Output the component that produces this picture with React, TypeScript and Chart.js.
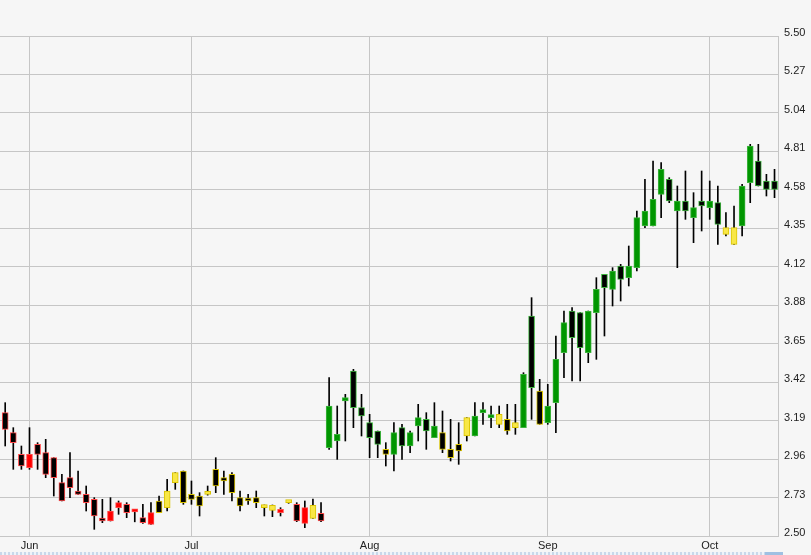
import React, { useEffect, useRef } from "react";
import { Chart, registerables } from "chart.js";

Chart.register(...registerables);

// ---- data (one entry per trading day) ----
const openPrices = [
  3.24, 3.12, 2.99, 2.91, 3.05, 3.0, 2.97, 2.82, 2.85, 2.77,
  2.75, 2.72, 2.6, 2.59, 2.67, 2.69, 2.645, 2.61, 2.57, 2.71,
  2.67, 2.82, 2.89, 2.75, 2.74, 2.75, 2.9, 2.85, 2.87, 2.73,
  2.72, 2.73, 2.67, 2.654, 2.64, 2.7, 2.69, 2.576, 2.606, 2.636,
  3.03, 3.07, 3.31, 3.49, 3.27, 3.18, 3.13, 3.02, 2.99, 3.15,
  3.04, 3.16, 3.2, 3.09, 3.12, 3.02, 3.05, 3.1, 3.1, 3.24,
  3.21, 3.17, 3.2, 3.15, 3.15, 3.82, 3.37, 3.18, 3.3, 3.6,
  3.85, 3.84, 3.6, 3.84, 4.07, 3.98, 4.12, 4.05, 4.11, 4.36,
  4.36, 4.55, 4.64, 4.45, 4.51, 4.41, 4.51, 4.47, 4.5, 4.31,
  4.25, 4.36, 4.62, 4.75, 4.63, 4.63,
];
const highPrices = [
  3.3, 3.15, 3.04, 3.15, 3.06, 3.08, 2.97, 2.87, 3.0, 2.89,
  2.8, 2.73, 2.72, 2.73, 2.71, 2.7, 2.655, 2.69, 2.7, 2.74,
  2.84, 2.88, 2.89, 2.83, 2.76, 2.8, 2.97, 2.89, 2.88, 2.77,
  2.75, 2.77, 2.686, 2.686, 2.67, 2.712, 2.7, 2.71, 2.722, 2.7,
  3.45, 3.28, 3.35, 3.5, 3.35, 3.23, 3.13, 3.06, 3.18, 3.17,
  3.13, 3.29, 3.24, 3.3, 3.25, 3.2, 3.18, 3.21, 3.3, 3.3,
  3.28, 3.28, 3.29, 3.29, 3.48, 3.93, 3.44, 3.41, 3.7, 3.85,
  3.87, 3.84, 3.85, 4.05, 4.07, 4.11, 4.13, 4.24, 4.45, 4.64,
  4.75, 4.74, 4.65, 4.6, 4.69, 4.56, 4.69, 4.63, 4.6, 4.44,
  4.48, 4.61, 4.85, 4.85, 4.67, 4.7,
];
const lowPrices = [
  3.04, 2.9, 2.9, 2.9, 2.9, 2.85, 2.74, 2.71, 2.73, 2.75,
  2.65, 2.54, 2.58, 2.59, 2.63, 2.61, 2.585, 2.576, 2.57, 2.64,
  2.65, 2.78, 2.69, 2.69, 2.62, 2.745, 2.76, 2.75, 2.71, 2.65,
  2.69, 2.67, 2.62, 2.616, 2.62, 2.696, 2.586, 2.55, 2.606, 2.586,
  3.02, 2.96, 3.07, 3.15, 3.1, 2.97, 2.97, 2.92, 2.89, 2.96,
  3.0, 3.07, 3.02, 3.09, 3.0, 2.95, 2.93, 3.07, 3.1, 3.17,
  3.15, 3.15, 3.11, 3.11, 3.15, 3.2, 3.17, 3.17, 3.12, 3.45,
  3.43, 3.43, 3.54, 3.56, 3.7, 3.88, 3.91, 4.0, 4.09, 4.35,
  4.36, 4.41, 4.5, 4.11, 4.4, 4.26, 4.33, 4.4, 4.25, 4.3,
  4.25, 4.3, 4.5, 4.6, 4.54, 4.53,
];
const closePrices = [
  3.14, 3.06, 2.92, 2.99, 2.99, 2.87, 2.85, 2.71, 2.79, 2.75,
  2.7, 2.62, 2.59, 2.65, 2.7, 2.64, 2.655, 2.58, 2.64, 2.64,
  2.77, 2.88, 2.7, 2.72, 2.68, 2.76, 2.8, 2.83, 2.76, 2.68,
  2.71, 2.7, 2.68, 2.684, 2.66, 2.712, 2.59, 2.67, 2.684, 2.59,
  3.28, 3.11, 3.33, 3.27, 3.22, 3.09, 3.05, 2.99, 3.12, 3.04,
  3.12, 3.21, 3.13, 3.16, 3.02, 2.97, 3.01, 3.21, 3.22, 3.25,
  3.22, 3.23, 3.13, 3.18, 3.47, 3.39, 3.17, 3.28, 3.56, 3.78,
  3.69, 3.63, 3.85, 3.98, 3.99, 4.09, 4.04, 4.12, 4.41, 4.45,
  4.52, 4.7, 4.51, 4.51, 4.45, 4.47, 4.48, 4.51, 4.37, 4.35,
  4.35, 4.6, 4.84, 4.6, 4.58, 4.58,
];
// trend colour of each candle: r = red, y = yellow, g = green
const trendColors = [
  "r", "r", "r", "r", "r", "r", "r", "r", "r", "r",
  "r", "r", "r", "r", "r", "r", "r", "r", "r", "y",
  "y", "y", "y", "y", "y", "y", "y", "y", "y", "y",
  "y", "y", "y", "y", "r", "y", "r", "r", "y", "r",
  "g", "g", "g", "g", "g", "g", "g", "y", "g", "g",
  "g", "g", "g", "g", "y", "y", "y", "y", "g", "g",
  "g", "y", "y", "y", "g", "g", "y", "g", "g", "g",
  "g", "g", "g", "g", "g", "g", "g", "g", "g", "g",
  "g", "g", "g", "g", "g", "g", "g", "g", "g", "y",
  "y", "g", "g", "g", "g", "g",
];
const monthLabels = ["Jun", "Jul", "Aug", "Sep", "Oct"];
const monthStartIndex = [3, 23, 45, 67, 87];
const yTickLabels = [
  "2.50", "2.73", "2.96", "3.19", "3.42", "3.65", "3.88",
  "4.12", "4.35", "4.58", "4.81", "5.04", "5.27", "5.50",
];
const yMin = 2.5;
const yMax = 5.5;

const palette: Record<string, { fill: string; edge: string }> = {
  r: { fill: "#ff0000", edge: "#ff4a4a" },
  y: { fill: "#f8e746", edge: "#d9c300" },
  g: { fill: "#009600", edge: "#3db43d" },
};

export default function App() {
  const ref = useRef<HTMLCanvasElement | null>(null);

  useEffect(() => {
    document.body.style.margin = "0";
    const canvas = ref.current;
    if (!canvas) return;

    const n = openPrices.length;
    const wickData = [];
    const bodyData = [];
    const bodyFill: string[] = [];
    const bodyEdge: string[] = [];
    for (let i = 0; i < n; i++) {
      const o = openPrices[i];
      const c = closePrices[i];
      wickData.push({ x: i, y: [lowPrices[i], highPrices[i]] });
      bodyData.push({ x: i, y: [Math.min(o, c), Math.max(o, c)] });
      const p = palette[trendColors[i]];
      bodyFill.push(c < o ? "#000000" : p.fill);
      bodyEdge.push(p.edge);
    }

    const yTickValues = yTickLabels.map(
      (_, k) => yMin + (k * (yMax - yMin)) / (yTickLabels.length - 1)
    );

    const chart = new Chart(canvas, {
      type: "bar",
      data: {
        datasets: [
          {
            label: "wick",
            data: wickData as any,
            backgroundColor: "#000000",
            borderWidth: 0,
            barThickness: 1,
            grouped: false,
            order: 2,
          } as any,
          {
            label: "body",
            data: bodyData as any,
            backgroundColor: bodyFill,
            borderColor: bodyEdge,
            borderWidth: 1,
            borderSkipped: false,
            barThickness: 6,
            minBarLength: 3,
            grouped: false,
            order: 1,
          } as any,
        ],
      },
      options: {
        animation: false,
        responsive: false,
        maintainAspectRatio: false,
        devicePixelRatio: 1,
        layout: { padding: { top: 36, left: 0, right: 0, bottom: 0 } },
        plugins: {
          legend: { display: false },
          tooltip: { enabled: false },
        },
        scales: {
          x: {
            type: "linear",
            min: -0.642,
            max: 95.43,
            offset: false,
            afterBuildTicks: (scale: any) => {
              scale.ticks = monthStartIndex.map((v) => ({ value: v }));
            },
            afterFit: (scale: any) => {
              scale.height = 19;
            },
            ticks: {
              autoSkip: false,
              maxRotation: 0,
              padding: 3,
              color: "#222222",
              font: { family: "'Liberation Sans', Arial, sans-serif", size: 11 },
              callback: (v: any) => {
                const k = monthStartIndex.indexOf(Number(v));
                return k >= 0 ? monthLabels[k] : "";
              },
            },
            grid: { color: "#c6c6c6", lineWidth: 1, drawTicks: false, offset: false },
            border: { display: true, color: "#c6c6c6" },
          },
          y: {
            type: "linear",
            position: "right",
            min: yMin,
            max: yMax,
            afterBuildTicks: (scale: any) => {
              scale.ticks = yTickValues.map((v) => ({ value: v }));
            },
            afterFit: (scale: any) => {
              scale.width = 33;
            },
            ticks: {
              autoSkip: false,
              padding: 6,
              labelOffset: -3,
              color: "#222222",
              font: { family: "'Liberation Sans', Arial, sans-serif", size: 11 },
              callback: (v: any) => {
                let best = 0;
                for (let k = 0; k < yTickValues.length; k++) {
                  if (Math.abs(yTickValues[k] - Number(v)) < Math.abs(yTickValues[best] - Number(v))) best = k;
                }
                return yTickLabels[best];
              },
            },
            grid: { color: "#c6c6c6", lineWidth: 1, drawTicks: false },
            border: { display: true, color: "#c6c6c6" },
          },
        },
      } as any,
    });

    return () => {
      chart.destroy();
    };
  }, []);

  return (
    <div
      style={{
        position: "fixed",
        left: 0,
        top: 0,
        width: 811,
        height: 555,
        background: "#f6f6f6",
        overflow: "hidden",
      }}
    >
      <canvas ref={ref} width={811} height={555} style={{ display: "block" }} />
      <div
        style={{
          position: "absolute",
          left: 0,
          top: 552,
          width: 781,
          height: 3,
          background:
            "repeating-linear-gradient(90deg, #c8d8ea 0px, #c8d8ea 2px, #eef3f9 2px, #eef3f9 4px)",
        }}
      />
      <div
        style={{
          position: "absolute",
          left: 765,
          top: 552,
          width: 18,
          height: 3,
          background: "#9fc0e2",
        }}
      />
    </div>
  );
}
